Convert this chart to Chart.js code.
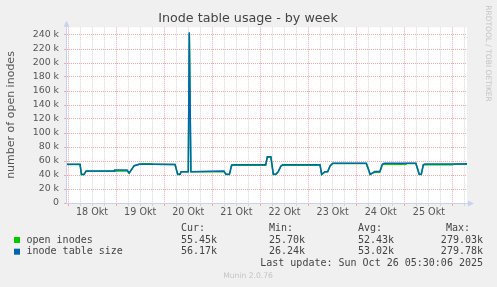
<!DOCTYPE html>
<html>
<head>
<meta charset="utf-8">
<script src="https://cdn.jsdelivr.net/npm/chart.js@4.4.1/dist/chart.umd.min.js"></script>
<style>
  html, body { margin: 0; padding: 0; background: #f0f0f0; }
  canvas { display: block; }
</style>
</head>
<body>
<canvas id="inodeChart" width="497" height="287"></canvas>
<script>
// hours since 18 Okt 00:00, values in thousands
const hours = [-0.5, 6.0, 6.7, 8.0, 9.0, 23.0, 23.3, 29.5, 30.5, 33.0, 35.5, 36.5, 42.0, 42.5,
  53.4, 54.7, 55.9, 56.4, 60.0, 60.5, 61.3, 77.8, 78.8, 80.5, 81.6, 82.5, 98.6, 99.4,
  101.2, 102.4, 103.7, 104.9, 106.2, 107.0, 125.7, 126.5, 128.2, 129.5, 130.7, 132.0, 148.8, 150.7,
  151.5, 153.0, 155.5, 156.8, 157.7, 168.5, 169.0, 173.5, 175.2, 176.2, 177.2, 178.0, 191.8, 192.3, 199.0];
const tableSize = [55.3, 55.3, 41, 41, 45.7, 45.7, 47, 47, 43, 53.3, 55.3, 55.3, 55.3, 55.3,
  55.0, 41, 41, 44.8, 44.8, 244, 44.8, 45.7, 41, 41, 54.3, 54.7, 54.7, 66,
  66, 41, 41, 45.2, 52.9, 54.7, 54.7, 41, 44.8, 44.8, 52.9, 56.7, 56.7, 41,
  42.4, 45, 45, 55.3, 56.7, 56.7, 56.7, 56.7, 41, 41, 54.6, 55.8, 55.8, 55.8, 56.2];
const openInodes = [55.0, 55.0, 40.5, 40.5, 45.5, 45.5, 45.7, 45.7, 42.5, 53.0, 55.3, 56.2, 56.2, 55.3,
  55.0, 40.6, 40.6, 44.5, 44.5, 242, 44.5, 45.0, 40.6, 40.6, 53.5, 54.0, 54.0, 65.5,
  65.5, 40.6, 40.6, 44.8, 52.5, 54.0, 54.0, 40.6, 44.5, 44.5, 52.6, 56.5, 56.5, 40.6,
  42.0, 43.8, 43.8, 55.0, 55.3, 55.3, 56.5, 56.5, 40.6, 40.6, 54.3, 54.6, 54.6, 55.5, 55.5];
const dayLabels = ['18 Okt', '19 Okt', '20 Okt', '21 Okt', '22 Okt', '23 Okt', '24 Okt', '25 Okt'];
const seriesNames = ['open inodes', 'inode table size'];
const curValues = ['55.45k', '56.17k'];
const minValues = ['25.70k', '26.24k'];
const avgValues = ['52.43k', '53.02k'];
const maxValues = ['279.03k', '279.78k'];

const GREEN = '#00cc00';
const BLUE = '#0066b3';
const MAJOR = '#f2a8a8';
const MINOR = '#d4d4d4';
const AXIS = '#c9d0f2';

const toPoints = vals => hours.map((h, i) => ({ x: h, y: vals[i] }));

const muninDecor = {
  id: 'muninDecor',
  beforeDraw(chart) {
    const { ctx, chartArea: a } = chart;
    ctx.save();
    ctx.fillStyle = '#f0f0f0';
    ctx.fillRect(0, 0, chart.width, chart.height);
    ctx.fillStyle = '#ffffff';
    ctx.fillRect(a.left, a.top, a.right - a.left, a.bottom - a.top);
    ctx.restore();
  },
  afterDraw(chart) {
    const { ctx, chartArea: a } = chart;
    ctx.save();
    // axes with arrows
    ctx.strokeStyle = AXIS;
    ctx.fillStyle = AXIS;
    ctx.lineWidth = 1;
    ctx.beginPath();
    ctx.moveTo(a.left - 0.5, a.bottom + 0.5);
    ctx.lineTo(a.right + 2, a.bottom + 0.5);
    ctx.moveTo(a.left - 0.5, a.bottom + 0.5);
    ctx.lineTo(a.left - 0.5, a.top - 1);
    ctx.stroke();
    ctx.beginPath();
    ctx.moveTo(a.right + 7, a.bottom + 0.5);
    ctx.lineTo(a.right + 1, a.bottom - 2.5);
    ctx.lineTo(a.right + 1, a.bottom + 3.5);
    ctx.fill();
    ctx.beginPath();
    ctx.moveTo(a.left - 0.5, a.top - 6.5);
    ctx.lineTo(a.left - 3.5, a.top - 0.5);
    ctx.lineTo(a.left + 2.5, a.top - 0.5);
    ctx.fill();

    ctx.textBaseline = 'middle';
    // title
    ctx.fillStyle = '#444';
    ctx.font = '12.7px "DejaVu Sans"';
    ctx.textAlign = 'center';
    ctx.fillText('Inode table usage - by week', 248, 19);
    // y title
    ctx.save();
    ctx.translate(11, 115);
    ctx.rotate(-Math.PI / 2);
    ctx.font = '11px "DejaVu Sans"';
    ctx.fillStyle = '#555';
    ctx.fillText('number of open inodes', 0, 0);
    ctx.restore();
    // rrdtool credit
    ctx.save();
    ctx.translate(487.5, 53.5);
    ctx.rotate(Math.PI / 2);
    ctx.font = '7.5px "DejaVu Sans"';
    ctx.fillStyle = '#c4c4c4';
    ctx.fillText('RRDTOOL / TOBI OETIKER', 0, 0);
    ctx.restore();

    // legend
    ctx.font = '10px "DejaVu Sans Mono"';
    ctx.fillStyle = '#444';
    ctx.textAlign = 'left';
    ctx.fillText('Cur:', 181, 228);
    ctx.fillText('Min:', 269, 228);
    ctx.fillText('Avg:', 358, 228);
    ctx.textAlign = 'right';
    ctx.fillText('Max:', 470, 228);
    const rows = [240, 251.7];
    const colors = [GREEN, BLUE];
    rows.forEach((y, i) => {
      ctx.fillStyle = colors[i];
      ctx.fillRect(14, y - 3, 6, 6);
      ctx.fillStyle = '#444';
      ctx.textAlign = 'left';
      ctx.fillText(seriesNames[i], 26.5, y);
      ctx.fillText(curValues[i], 181, y);
      ctx.fillText(minValues[i], 269, y);
      ctx.fillText(avgValues[i], 358, y);
      ctx.textAlign = 'right';
      ctx.fillText(maxValues[i], 483, y);
    });
    ctx.fillText('Last update: Sun Oct 26 05:30:06 2025', 483, 263.5);
    ctx.textAlign = 'center';
    ctx.font = '7.6px "DejaVu Sans"';
    ctx.fillStyle = '#c4c4c4';
    ctx.fillText('Munin 2.0.76', 248, 276);
    ctx.restore();
  }
};

Chart.defaults.font.family = '"DejaVu Sans"';

new Chart(document.getElementById('inodeChart'), {
  type: 'line',
  data: {
    // first dataset is painted last (on top)
    datasets: [
      { label: seriesNames[1], data: toPoints(tableSize), borderColor: BLUE, borderWidth: 1.5 },
      { label: seriesNames[0], data: toPoints(openInodes), borderColor: GREEN, borderWidth: 1.5 }
    ]
  },
  options: {
    responsive: false,
    animation: false,
    devicePixelRatio: 1,
    layout: { padding: { left: 0, top: 27.3, right: 30, bottom: 0 } },
    elements: { point: { radius: 0 }, line: { tension: 0 } },
    plugins: { legend: { display: false }, tooltip: { enabled: false } },
    scales: {
      x: {
        type: 'linear',
        min: -0.5,
        max: 199,
        afterFit: s => { s.height = 84; },
        afterBuildTicks: s => {
          const t = [];
          for (let h = 0; h <= 198; h += 6) t.push({ value: h });
          s.ticks = t;
        },
        ticks: {
          autoSkip: false,
          maxRotation: 0,
          padding: 1,
          color: '#555',
          font: { size: 9.6 },
          callback: v => (v % 24 === 12 ? dayLabels[(v - 12) / 24] : '')
        },
        grid: {
          color: c => (c.tick && c.tick.value % 24 === 0 ? MAJOR : MINOR),
          tickLength: 3,
          tickBorderDash: []
        },
        border: { display: false, dash: [1, 1] }
      },
      y: {
        min: 0,
        max: 251,
        afterFit: s => { s.width = 67; },
        afterBuildTicks: s => {
          const t = [];
          for (let v = 0; v <= 250; v += 10) t.push({ value: v });
          s.ticks = t;
        },
        ticks: {
          padding: 5,
          color: '#555',
          font: { size: 9.4 },
          callback: v => (v % 20 !== 0 ? '' : v === 0 ? '0' : v + ' k')
        },
        grid: {
          color: c => (c.tick && c.tick.value % 20 === 0 ? MAJOR : MINOR),
          tickLength: 3,
          tickBorderDash: []
        },
        border: { display: false, dash: [1, 1] }
      }
    }
  },
  plugins: [muninDecor]
});
</script>
</body>
</html>
